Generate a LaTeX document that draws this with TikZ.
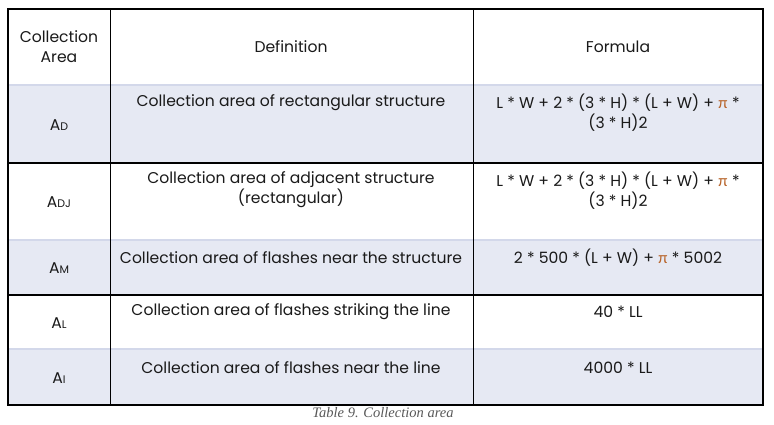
\documentclass[tikz,border=0pt]{standalone}
\usepackage{fontspec}
\setmainfont{Poppins}
\newfontfamily\capfont{Liberation Serif}
\newfontfamily\greekfont{Lato}
\definecolor{rowshade}{HTML}{E6E9F3}
\definecolor{lightrule}{HTML}{D3D8EA}
\definecolor{txtcol}{HTML}{1A1A1A}
\definecolor{picol}{HTML}{B8642A}
\newcommand{\sbs}[1]{{\fontsize{11}{12}\selectfont #1}}
\newcommand{\mypi}{{\greekfont\color{picol}π}}
\begin{document}
\begin{tikzpicture}[x=1pt,y=-1pt,
  txt/.style={font=\fontsize{15.6}{20}\selectfont, align=center, inner sep=0pt, text=txtcol},
  blackrule/.style={draw=black, line width=1.3pt},
  softrule/.style={draw=lightrule, line width=1.1pt}]
\useasboundingbox (0,0) rectangle (774,424);
\fill[white] (0,0) rectangle (774,424);
% shaded rows
\fill[rowshade] (8,85) rectangle (763,163);
\fill[rowshade] (8,240) rectangle (763,295);
\fill[rowshade] (8,349) rectangle (763,405);
% horizontal rules
\draw[softrule] (8,85) -- (763,85);
\draw[softrule] (8,240) -- (763,240);
\draw[softrule] (8,349) -- (763,349);
\draw[blackrule] (8,163) -- (763,163);
\draw[blackrule] (8,295) -- (763,295);
% vertical rules and frame
\draw[blackrule] (110.5,9) -- (110.5,405);
\draw[blackrule] (473.5,9) -- (473.5,405);
\draw[blackrule] (8,9) rectangle (763,405);
% header
\node[txt] (h1) at (59,47) {Collection\\Area};
\node[txt] (h2) at (291,47) {Definition};
\node[txt] (h3) at (618,47) {Formula};
% row 1
\node[txt] (a1) at (59,125) {A\sbs{D}};
\node[txt] (d1) at (291,103) {Collection area of rectangular structure};
\node[txt] (f1) at (618,113) {L * W + 2 * (3 * H) * (L + W) + \mypi{} *\\(3 * H)2};
% row 2
\node[txt] (a2) at (59,202) {A\sbs{DJ}};
\node[txt] (d2) at (291,190) {Collection area of adjacent structure\\(rectangular)};
\node[txt] (f2) at (618,191) {L * W + 2 * (3 * H) * (L + W) + \mypi{} *\\(3 * H)2};
% row 3
\node[txt] (a3) at (59,268) {A\sbs{M}};
\node[txt] (d3) at (291,258) {Collection area of flashes near the structure};
\node[txt] (f3) at (618,258) {2 * 500 * (L + W) + \mypi{} * 5002};
% row 4
\node[txt] (a4) at (59,323) {A\sbs{L}};
\node[txt] (d4) at (291,312) {Collection area of flashes striking the line};
\node[txt] (f4) at (618,312) {40 * LL};
% row 5
\node[txt] (a5) at (59,378) {A\sbs{I}};
\node[txt] (d5) at (291,368) {Collection area of flashes near the line};
\node[txt] (f5) at (618,368) {4000 * LL};
% caption
\node[font=\capfont\itshape\fontsize{14.5}{16}\selectfont, text=black!65, inner sep=0pt] (cap) at (383,413) {Table 9. Collection area};
\end{tikzpicture}
\end{document}
